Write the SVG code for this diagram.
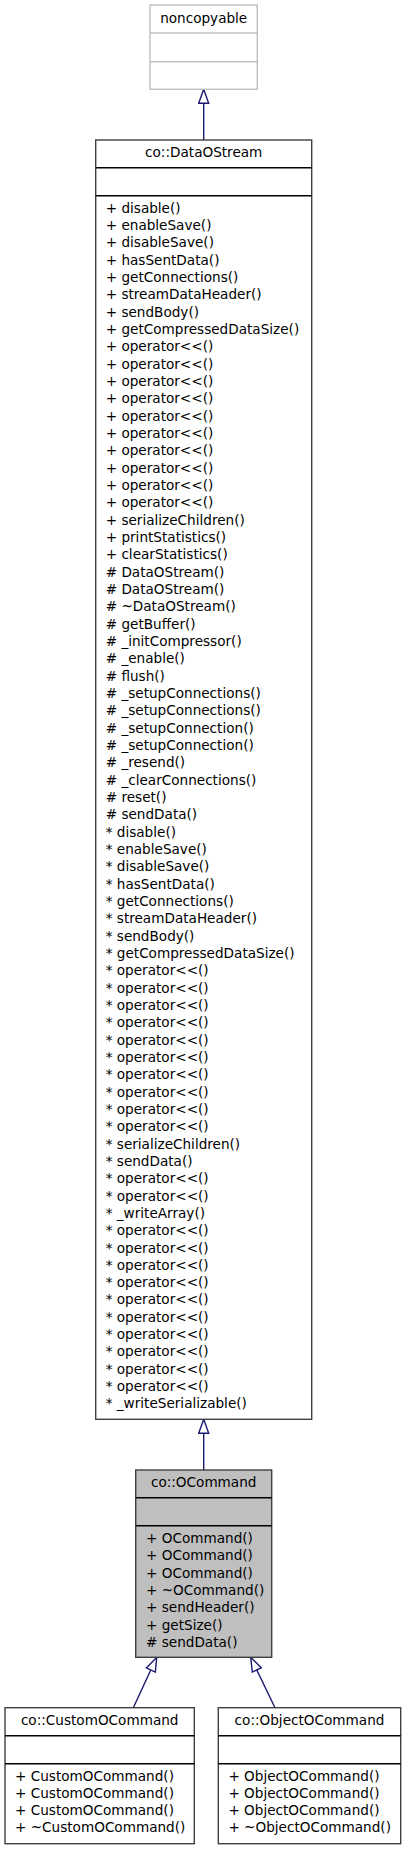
<svg xmlns="http://www.w3.org/2000/svg" width="405" height="1851" viewBox="0 0 405 1851">
<style>
text{font-family:"DejaVu Sans","Liberation Sans",sans-serif;font-size:13.6px;fill:#000}
.t{text-anchor:middle}
.box{fill:#fff;stroke:#404040;stroke-width:1.4}
.gbox{fill:#fff;stroke:#bfbfbf;stroke-width:1.4}
.cur{fill:#bfbfbf;stroke:#404040;stroke-width:1.4}
.sep{stroke:#000;stroke-width:1.4}
.gsep{stroke:#bfbfbf;stroke-width:1.4}
.edge{stroke:#191970;stroke-width:1.4;fill:none}
</style>
<defs>
<marker id="tri" markerUnits="userSpaceOnUse" markerWidth="16" markerHeight="12" viewBox="-1 -6 16 12" refX="14" refY="0" orient="auto">
<path d="M0,-5 L14,0 L0,5 Z" fill="#fff" stroke="#191970" stroke-width="1.4"/>
</marker>
</defs>
<g id="connectors">
<line class="edge" x1="203.7" y1="140" x2="203.7" y2="89.3" marker-end="url(#tri)"/>
<line class="edge" x1="203.7" y1="1470" x2="203.7" y2="1419.3" marker-end="url(#tri)"/>
<line class="edge" x1="133.3" y1="1707.7" x2="156.7" y2="1657.3" marker-end="url(#tri)"/>
<line class="edge" x1="275" y1="1707.7" x2="250.7" y2="1657.3" marker-end="url(#tri)"/>
</g>
<g id="noncopyable">
<rect class="gbox" x="150" y="5" width="107.3" height="84.3"/>
<line class="gsep" x1="150" y1="33" x2="257.3" y2="33"/>
<line class="gsep" x1="150" y1="61.7" x2="257.3" y2="61.7"/>
<text class="t" x="203.7" y="23">noncopyable</text>
</g>
<g id="DataOStream">
<rect class="box" x="95.7" y="140" width="216" height="1279.3"/>
<line class="sep" x1="95.7" y1="167.7" x2="311.7" y2="167.7"/>
<line class="sep" x1="95.7" y1="195.7" x2="311.7" y2="195.7"/>
<text class="t" x="203.7" y="157.3">co::DataOStream</text>
<text x="105.7">
<tspan x="105.7" y="212.7">+ disable()</tspan>
<tspan x="105.7" y="230.03">+ enableSave()</tspan>
<tspan x="105.7" y="247.36">+ disableSave()</tspan>
<tspan x="105.7" y="264.69">+ hasSentData()</tspan>
<tspan x="105.7" y="282.02">+ getConnections()</tspan>
<tspan x="105.7" y="299.35">+ streamDataHeader()</tspan>
<tspan x="105.7" y="316.68">+ sendBody()</tspan>
<tspan x="105.7" y="334.01">+ getCompressedDataSize()</tspan>
<tspan x="105.7" y="351.34">+ operator&lt;&lt;()</tspan>
<tspan x="105.7" y="368.67">+ operator&lt;&lt;()</tspan>
<tspan x="105.7" y="386.0">+ operator&lt;&lt;()</tspan>
<tspan x="105.7" y="403.33">+ operator&lt;&lt;()</tspan>
<tspan x="105.7" y="420.66">+ operator&lt;&lt;()</tspan>
<tspan x="105.7" y="437.99">+ operator&lt;&lt;()</tspan>
<tspan x="105.7" y="455.32">+ operator&lt;&lt;()</tspan>
<tspan x="105.7" y="472.65">+ operator&lt;&lt;()</tspan>
<tspan x="105.7" y="489.98">+ operator&lt;&lt;()</tspan>
<tspan x="105.7" y="507.31">+ operator&lt;&lt;()</tspan>
<tspan x="105.7" y="524.64">+ serializeChildren()</tspan>
<tspan x="105.7" y="541.97">+ printStatistics()</tspan>
<tspan x="105.7" y="559.3">+ clearStatistics()</tspan>
<tspan x="105.7" y="576.63"># DataOStream()</tspan>
<tspan x="105.7" y="593.96"># DataOStream()</tspan>
<tspan x="105.7" y="611.29"># ~DataOStream()</tspan>
<tspan x="105.7" y="628.62"># getBuffer()</tspan>
<tspan x="105.7" y="645.95"># _initCompressor()</tspan>
<tspan x="105.7" y="663.28"># _enable()</tspan>
<tspan x="105.7" y="680.61"># flush()</tspan>
<tspan x="105.7" y="697.94"># _setupConnections()</tspan>
<tspan x="105.7" y="715.27"># _setupConnections()</tspan>
<tspan x="105.7" y="732.6"># _setupConnection()</tspan>
<tspan x="105.7" y="749.93"># _setupConnection()</tspan>
<tspan x="105.7" y="767.26"># _resend()</tspan>
<tspan x="105.7" y="784.59"># _clearConnections()</tspan>
<tspan x="105.7" y="801.92"># reset()</tspan>
<tspan x="105.7" y="819.25"># sendData()</tspan>
<tspan x="105.7" y="836.58">* disable()</tspan>
<tspan x="105.7" y="853.91">* enableSave()</tspan>
<tspan x="105.7" y="871.24">* disableSave()</tspan>
<tspan x="105.7" y="888.57">* hasSentData()</tspan>
<tspan x="105.7" y="905.9">* getConnections()</tspan>
<tspan x="105.7" y="923.23">* streamDataHeader()</tspan>
<tspan x="105.7" y="940.56">* sendBody()</tspan>
<tspan x="105.7" y="957.89">* getCompressedDataSize()</tspan>
<tspan x="105.7" y="975.22">* operator&lt;&lt;()</tspan>
<tspan x="105.7" y="992.55">* operator&lt;&lt;()</tspan>
<tspan x="105.7" y="1009.88">* operator&lt;&lt;()</tspan>
<tspan x="105.7" y="1027.21">* operator&lt;&lt;()</tspan>
<tspan x="105.7" y="1044.54">* operator&lt;&lt;()</tspan>
<tspan x="105.7" y="1061.87">* operator&lt;&lt;()</tspan>
<tspan x="105.7" y="1079.2">* operator&lt;&lt;()</tspan>
<tspan x="105.7" y="1096.53">* operator&lt;&lt;()</tspan>
<tspan x="105.7" y="1113.86">* operator&lt;&lt;()</tspan>
<tspan x="105.7" y="1131.19">* operator&lt;&lt;()</tspan>
<tspan x="105.7" y="1148.52">* serializeChildren()</tspan>
<tspan x="105.7" y="1165.85">* sendData()</tspan>
<tspan x="105.7" y="1183.18">* operator&lt;&lt;()</tspan>
<tspan x="105.7" y="1200.51">* operator&lt;&lt;()</tspan>
<tspan x="105.7" y="1217.84">* _writeArray()</tspan>
<tspan x="105.7" y="1235.17">* operator&lt;&lt;()</tspan>
<tspan x="105.7" y="1252.5">* operator&lt;&lt;()</tspan>
<tspan x="105.7" y="1269.83">* operator&lt;&lt;()</tspan>
<tspan x="105.7" y="1287.16">* operator&lt;&lt;()</tspan>
<tspan x="105.7" y="1304.49">* operator&lt;&lt;()</tspan>
<tspan x="105.7" y="1321.82">* operator&lt;&lt;()</tspan>
<tspan x="105.7" y="1339.15">* operator&lt;&lt;()</tspan>
<tspan x="105.7" y="1356.48">* operator&lt;&lt;()</tspan>
<tspan x="105.7" y="1373.81">* operator&lt;&lt;()</tspan>
<tspan x="105.7" y="1391.14">* operator&lt;&lt;()</tspan>
<tspan x="105.7" y="1408.47">* _writeSerializable()</tspan>
</text>
</g>
<g id="OCommand">
<rect class="cur" x="135.7" y="1470" width="136" height="187.3"/>
<line class="sep" x1="135.7" y1="1497.7" x2="271.7" y2="1497.7"/>
<line class="sep" x1="135.7" y1="1525.7" x2="271.7" y2="1525.7"/>
<text class="t" x="203.7" y="1487.3">co::OCommand</text>
<text>
<tspan x="146" y="1543">+ OCommand()</tspan>
<tspan x="146" y="1560.33">+ OCommand()</tspan>
<tspan x="146" y="1577.66">+ OCommand()</tspan>
<tspan x="146" y="1594.99">+ ~OCommand()</tspan>
<tspan x="146" y="1612.32">+ sendHeader()</tspan>
<tspan x="146" y="1629.65">+ getSize()</tspan>
<tspan x="146" y="1646.98"># sendData()</tspan>
</text>
</g>
<g id="CustomOCommand">
<rect class="box" x="5" y="1707.7" width="189.3" height="136"/>
<line class="sep" x1="5" y1="1735.7" x2="194.3" y2="1735.7"/>
<line class="sep" x1="5" y1="1763.7" x2="194.3" y2="1763.7"/>
<text class="t" x="99.7" y="1725">co::CustomOCommand</text>
<text>
<tspan x="15" y="1780.5">+ CustomOCommand()</tspan>
<tspan x="15" y="1797.83">+ CustomOCommand()</tspan>
<tspan x="15" y="1815.16">+ CustomOCommand()</tspan>
<tspan x="15" y="1832.49">+ ~CustomOCommand()</tspan>
</text>
</g>
<g id="ObjectOCommand">
<rect class="box" x="218.3" y="1707.7" width="182.4" height="136"/>
<line class="sep" x1="218.3" y1="1735.7" x2="400.7" y2="1735.7"/>
<line class="sep" x1="218.3" y1="1763.7" x2="400.7" y2="1763.7"/>
<text class="t" x="309.5" y="1725">co::ObjectOCommand</text>
<text>
<tspan x="228.4" y="1780.5">+ ObjectOCommand()</tspan>
<tspan x="228.4" y="1797.83">+ ObjectOCommand()</tspan>
<tspan x="228.4" y="1815.16">+ ObjectOCommand()</tspan>
<tspan x="228.4" y="1832.49">+ ~ObjectOCommand()</tspan>
</text>
</g>
</svg>
